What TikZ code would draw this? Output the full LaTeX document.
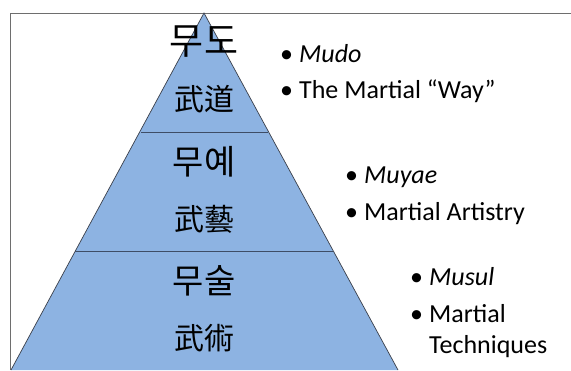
\documentclass[tikz,border=0pt]{standalone}
\usepackage{fontspec}
\setmainfont{Carlito}
\newfontfamily\kr{Noto Sans CJK KR}
\definecolor{pyrfill}{HTML}{8DB3E2}
\definecolor{pyredge}{HTML}{3A3F4A}
\definecolor{divline}{HTML}{3E4D66}
\definecolor{framegray}{HTML}{6E6E6E}
\begin{document}
\begin{tikzpicture}[x=1pt,y=-1pt,
  hangul/.style={inner sep=0pt,font=\kr\fontsize{34}{34}\selectfont},
  hanja/.style={inner sep=0pt,font=\kr\fontsize{30}{30}\selectfont},
  bul/.style={anchor=base west,inner sep=0pt,font=\fontsize{26}{26}\selectfont}]
\useasboundingbox (0,0) rectangle (571,370);
\fill[white] (0,0) rectangle (571,370);
% frame
\draw[framegray,line width=0.8pt] (10,370) -- (10,13) -- (571,13);
% pyramid
\coordinate (apex) at (204,13);
\coordinate (bl) at (11,370);
\coordinate (br) at (398,370);
\fill[pyrfill] (apex) -- (bl) -- (br) -- cycle;
\draw[pyredge,line width=0.7pt] (bl) -- (apex) -- (br);
\coordinate (d1l) at (141,132);
\coordinate (d1r) at (268,132);
\coordinate (d2l) at (75,251);
\coordinate (d2r) at (333,251);
\draw[divline,line width=0.8pt] (d1l) -- (d1r);
\draw[divline,line width=0.8pt] (d2l) -- (d2r);
% labels in pyramid
\node[hangul,font=\kr\fontsize{37}{37}\selectfont] (mudo) at (204,42) {무도};
\node[hanja] (mudoh) at (204,99) {武道};
\node[hangul] (muyae) at (204,162) {무예};
\node[hanja] (muyaeh) at (204,219) {武藝};
\node[hangul] (musul) at (204,281) {무술};
\node[hanja] (musulh) at (204,338) {武術};
% bullets
\node[bul] (b1) at (280,62) {\makebox[19pt][l]{•}\textit{Mudo}};
\node[bul] (b2) at (280,98) {\makebox[19pt][l]{•}The Martial “Way”};
\node[bul] (b3) at (345,183) {\makebox[19pt][l]{•}\textit{Muyae}};
\node[bul] (b4) at (345,220) {\makebox[19pt][l]{•}Martial Artistry};
\node[bul] (b5) at (410,285) {\makebox[19pt][l]{•}\textit{Musul}};
\node[bul] (b6) at (410,322) {\makebox[19pt][l]{•}Martial};
\node[bul] (b7) at (429,353) {Techniques};
\end{tikzpicture}
\end{document}
